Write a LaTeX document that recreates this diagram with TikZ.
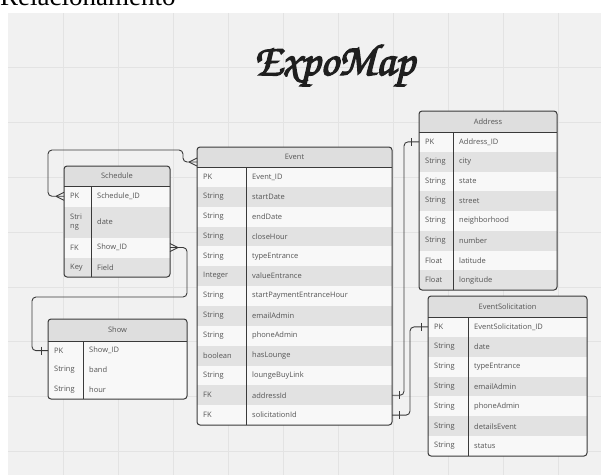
\documentclass[tikz,border=0pt]{standalone}
\usepackage{fontspec}
\setmainfont{Open Sans}
\newfontfamily\capfont{Liberation Serif}
\newfontfamily\titlefont[FakeBold=3]{texgyrechorus-mediumitalic.otf}
\usetikzlibrary{fit,calc}

\definecolor{canvas}{HTML}{F1F1F1}
\definecolor{gridc}{HTML}{E3E3E3}
\definecolor{headc}{HTML}{DEDEDE}
\definecolor{rowA}{HTML}{F8F8F8}
\definecolor{rowB}{HTML}{E2E2E2}
\definecolor{edge}{HTML}{3A3A3A}
\definecolor{txt}{HTML}{555555}

% one ER table: #1 prefix, #2 left x, #3 column divider x, #4 right x,
% #5 top y, #6 header bottom y, #7 bottom y, #8 title, #9 rows (type/field/height)
\newcommand{\ertable}[9]{%
  \begin{scope}
    \clip[rounded corners=3] (#2,#5) rectangle (#4,#7);
    \fill[rowA] (#2,#5) rectangle (#4,#7);
    \node[headcell, fit={(#2,#5) (#4,#6)}] (#1-head) {};
    \node[headtxt] (#1-title) at (#1-head.center) {#8};
    \xdef\ercury{#6}%
    \foreach \t/\f/\h [count=\i] in {#9} {
      \pgfmathsetmacro\ernext{\ercury+\h}
      \pgfmathsetmacro\ermid{\ercury+\h/2}
      \ifodd\i\relax \tikzset{rowfill/.style={oddrow}}\else \tikzset{rowfill/.style={evenrow}}\fi
      \node[rowfill, fit={(#2,\ercury) (#4,\ernext)}] (#1-\i) {};
      \node[celltxt] (#1-\i-t) at (#2+6,\ermid) {\t};
      \node[celltxt] (#1-\i-f) at (#3+6,\ermid) {\f};
      \xdef\ercury{\ernext}
    }
  \end{scope}
  \draw[frame, rounded corners=3] (#2,#5) rectangle (#4,#7);
  \draw[frame] (#2,#6) -- (#4,#6) (#3,#6) -- (#3,#7);
}
% crow's foot (many) at a node anchor; #2 = -1 when the line leaves to the left
\newcommand{\ercrow}[2]{%
  \draw[conn] ($(#1)+(#2*8,0)$) -- ($(#1)+(0,-4)$)
              ($(#1)+(#2*8,0)$) -- ($(#1)+(0,4)$);
}
% single bar (one) at a given offset from a node anchor
\newcommand{\erbar}[2]{%
  \draw[conn] ($(#1)+(#2,-4)$) -- ($(#1)+(#2,4)$);
}

\begin{document}
\begin{tikzpicture}[x=1pt, y=-1pt,
  cell/.style={inner sep=0pt, outer sep=0pt, draw=none},
  oddrow/.style={cell, fill=rowA},
  evenrow/.style={cell, fill=rowB},
  headcell/.style={cell, fill=headc},
  headtxt/.style={inner sep=0pt, font=\fontsize{7.5}{8.5}\selectfont, text=txt},
  celltxt/.style={anchor=west, inner sep=0pt, font=\fontsize{7.5}{8.5}\selectfont,
                  text=txt, align=left},
  frame/.style={draw=edge, line width=1pt},
  conn/.style={draw=edge, line width=0.9pt},
  gridline/.style={draw=gridc, line width=0.8pt}]

\useasboundingbox (0,0) rectangle (601,475);
\fill[white] (0,0) rectangle (601,475);
\fill[canvas] (8,13) rectangle (601,475);
\foreach \gx in {63,118,...,558} \draw[gridline] (\gx,13) -- (\gx,475);
\foreach \gy in {67.8,122.6,177.4,232.2,287,341.8,396.6,451.4}
  \draw[gridline] (8,\gy) -- (601,\gy);

% page heading, cut by the top edge
\begin{scope}
  \clip (0,0) rectangle (601,13);
  \node[anchor=base west, inner sep=0pt, font=\capfont\fontsize{27}{30}\selectfont]
    (heading) at (0,5) {Relacionamento};
\end{scope}

% title
\node[anchor=base, inner sep=0pt, font=\titlefont\fontsize{45}{50}\selectfont, text=black!88]
  (title) at (334,75) {ExpoMap};

% tables
\ertable{sch}{64}{91}{170}{166}{186}{277}{Schedule}
  {PK/Schedule\_ID/20.5, {Stri\\ng}/date/31, FK/Show\_ID/20, Key/Field/19.5}

\begin{scope}[evenrow/.style={oddrow}]
\ertable{show}{48}{83}{187}{319}{341}{399}{Show}
  {PK/Show\_ID/19.33, String/band/19.33, String/hour/19.34}
\end{scope}

\ertable{ev}{197}{246}{392}{147}{167}{425}{Event}
  {PK/Event\_ID/19.85, String/startDate/19.85, String/endDate/19.85,
   String/closeHour/19.85, String/typeEntrance/19.85, Integer/valueEntrance/19.85,
   String/startPaymentEntranceHour/19.85, String/emailAdmin/19.85,
   String/phoneAdmin/19.85, boolean/hasLounge/19.85, String/loungeBuyLink/19.85,
   FK/addressId/19.85, FK/solicitationId/19.85}

\ertable{addr}{419}{453}{557}{111}{132}{290}{Address}
  {PK/Address\_ID/19.75, String/city/19.75, String/state/19.75, String/street/19.75,
   String/neighborhood/19.75, String/number/19.75, Float/latitude/19.75,
   Float/longitude/19.75}

\ertable{es}{428}{468}{587}{296}{317}{456}{EventSolicitation}
  {PK/EventSolicitation\_ID/19.86, String/date/19.86, String/typeEntrance/19.86,
   String/emailAdmin/19.86, String/phoneAdmin/19.86, String/detailsEvent/19.86,
   String/status/19.86}

% relationships
\coordinate (evin) at ($(ev-head.west)+(0,5)$);
\draw[conn, rounded corners=4] (sch-1.west) -| (48,150) -- (183,150) |- (evin);
\ercrow{sch-1.west}{-1}
\ercrow{evin}{-1}

\draw[conn, rounded corners=4] (sch-3.east) -| (187,297) -- (32,297) |- (show-1.west);
\ercrow{sch-3.east}{1}
\erbar{show-1.west}{-7}

\draw[conn, rounded corners=4] (ev-12.east) -| ($(addr-1.west)+(-15,0)$) -- (addr-1.west);
\erbar{ev-12.east}{7}
\erbar{addr-1.west}{-8}

\draw[conn, rounded corners=4] (ev-13.east) -| ($(es-1.west)+(-18,0)$) -- (es-1.west);
\erbar{ev-13.east}{7}
\erbar{es-1.west}{-7}
\end{tikzpicture}
\end{document}
